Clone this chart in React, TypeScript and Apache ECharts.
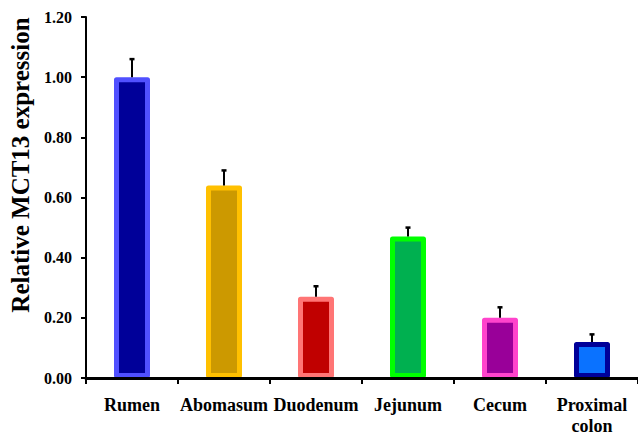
import React, { useEffect, useRef } from "react";
import * as echarts from "echarts";

const categories = ["Rumen", "Abomasum", "Duodenum", "Jejunum", "Cecum", "Proximal\ncolon"];
const values = [1.0, 0.64, 0.27, 0.47, 0.2, 0.12];
const errors = [0.06, 0.05, 0.035, 0.03, 0.035, 0.025];
const fillColors = ["#000099", "#CC9900", "#C00000", "#00B050", "#990099", "#0A72FF"];
const borderColors = ["#5050FF", "#FFC000", "#FF7575", "#00FF00", "#FF44CC", "#000099"];
const yAxisTitle = "Relative MCT13 expression";

const FONT = "'Liberation Serif', 'Times New Roman', serif";

export default function App() {
  const ref = useRef<HTMLDivElement>(null);
  useEffect(() => {
    if (!ref.current) return;
    const chart = echarts.init(ref.current, undefined, { renderer: "svg" });
    chart.setOption({
      animation: false,
      backgroundColor: "#ffffff",
      grid: { left: 86, right: 0, top: 17, bottom: 61 },
      xAxis: {
        type: "category",
        data: categories,
        z: 5,
        axisLine: { lineStyle: { color: "#000", width: 3 } },
        axisTick: { show: true, length: 6, lineStyle: { color: "#000", width: 2 } },
        axisLabel: {
          color: "#000",
          fontFamily: FONT,
          fontWeight: "bold",
          fontSize: 18,
          lineHeight: 21,
          margin: 16,
          interval: 0,
        },
      },
      yAxis: {
        type: "value",
        min: 0,
        max: 1.2,
        interval: 0.2,
        z: 5,
        splitLine: { show: false },
        axisLine: { show: true, lineStyle: { color: "#000", width: 2 } },
        axisTick: { show: true, length: 5, lineStyle: { color: "#000", width: 2 } },
        axisLabel: {
          color: "#000",
          fontFamily: FONT,
          fontWeight: "bold",
          fontSize: 16,
          margin: 14,
          formatter: (v: number) => v.toFixed(2),
        },
      },
      graphic: [
        {
          type: "text",
          x: 20,
          y: 165,
          rotation: Math.PI / 2,
          style: {
            text: yAxisTitle,
            font: `bold 25px ${FONT}`,
            fill: "#000",
            textAlign: "center",
            textVerticalAlign: "middle",
          },
        },
      ],
      series: [
        {
          type: "bar",
          barWidth: 36,
          data: values.map((v, i) => ({
            value: v,
            itemStyle: {
              color: fillColors[i],
              borderColor: borderColors[i],
              borderWidth: 5,
              borderJoin: "round",
            },
          })),
        },
        {
          type: "custom",
          z: 10,
          encode: { x: 0, y: 1 },
          data: values.map((v, i) => [i, v, errors[i]]),
          renderItem: (params: any, api: any) => {
            const i = api.value(0);
            const v = api.value(1);
            const e = api.value(2);
            const p0 = api.coord([i, v]);
            const p1 = api.coord([i, v + e]);
            return {
              type: "group",
              children: [
                {
                  type: "line",
                  shape: { x1: p0[0], y1: p0[1], x2: p1[0], y2: p1[1] },
                  style: { stroke: "#000", lineWidth: 2 },
                },
                {
                  type: "line",
                  shape: { x1: p1[0] - 2.5, y1: p1[1], x2: p1[0] + 2.5, y2: p1[1] },
                  style: { stroke: "#000", lineWidth: 2.5 },
                },
              ],
            };
          },
        },
      ],
    });
    return () => chart.dispose();
  }, []);
  return (
    <div
      ref={ref}
      style={{ position: "fixed", left: 0, top: 0, width: 638, height: 439, background: "#fff" }}
    />
  );
}
